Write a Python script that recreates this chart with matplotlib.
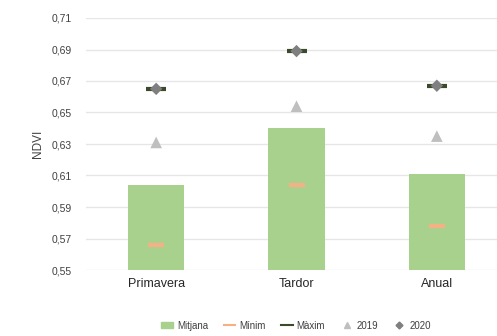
import numpy as np
import matplotlib
matplotlib.use("Agg")
import matplotlib.pyplot as plt
from matplotlib.lines import Line2D
from matplotlib.patches import Patch

categories = ["Primavera", "Tardor", "Anual"]
mitjana = [0.604, 0.640, 0.611]
minim = [0.566, 0.604, 0.578]
maxim = [0.665, 0.689, 0.667]
y2019 = [0.631, 0.654, 0.635]
y2020 = [0.665, 0.689, 0.667]
yticks = [0.55, 0.57, 0.59, 0.61, 0.63, 0.65, 0.67, 0.69, 0.71]

plt.rcParams["font.family"] = ["Liberation Sans", "DejaVu Sans"]

fig = plt.figure(figsize=(4.97, 3.36), dpi=100)
ax = fig.add_axes([86/497, 1-270/336, 421/497, 252/336])
x = np.arange(len(categories))

ax.bar(x, mitjana, width=0.4, color="#a9d18e", zorder=2)
ax.scatter(x, minim, marker="_", s=140, linewidths=3, color="#f4b183", zorder=3)
ax.scatter(x, maxim, marker="_", s=200, linewidths=3, color="#3a4a2a", zorder=3)
ax.scatter(x, y2019, marker="^", s=70, color="#bfbfbf", edgecolors="none", zorder=3)
ax.scatter(x, y2020, marker="D", s=40, color="#7f7f7f", edgecolors="none", zorder=4)

ax.set_xlim(-0.5, 2.5)
ax.set_ylim(0.55, 0.71)
ax.set_yticks(yticks)
ax.set_yticklabels([f"{v:.2f}".replace(".", ",") for v in yticks], fontsize=7.5, color="#404040")
ax.set_xticks(x)
ax.set_xticklabels(categories, fontsize=9, color="#262626")
ax.tick_params(length=0, pad=10)
ax.tick_params(axis="x", pad=6)
ax.grid(axis="y", color="#e6e6e6", lw=1, zorder=0)
ax.set_axisbelow(True)
for s in ax.spines.values():
    s.set_visible(False)
ax.set_ylabel("NDVI", fontsize=8.5, color="#404040")
ax.yaxis.set_label_coords(-0.1, 0.5)

handles = [
    Patch(color="#a9d18e"),
    Line2D([], [], color="#f4b183", lw=1.5),
    Line2D([], [], color="#3a4a2a", lw=1.5),
    Line2D([], [], ls="none", marker="^", ms=4, color="#bfbfbf"),
    Line2D([], [], ls="none", marker="D", ms=3.5, color="#7f7f7f"),
]
labels = ["Mitjana", "Mínim", "Màxim", "2019", "2020"]
fig.legend(handles, labels, loc="lower center", bbox_to_anchor=(296/497, -0.01), ncol=5,
           frameon=False, fontsize=7, handlelength=1.2, handleheight=0.6,
           handletextpad=0.4, columnspacing=1.6, labelcolor="#404040")
fig.savefig("out.png", dpi=100)
